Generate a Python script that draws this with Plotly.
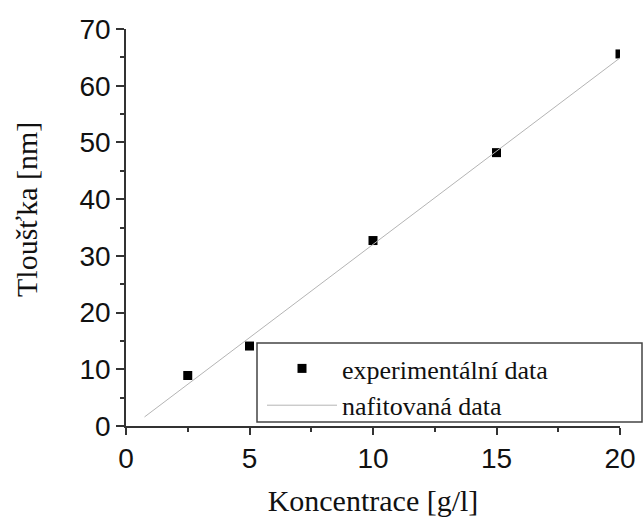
import plotly.graph_objects as go

# Data
conc = [2.5, 5, 10, 15, 20]
thickness = [8.9, 14.1, 32.7, 48.2, 65.6]
fit_x = [0.75, 20.0]
fit_y = [1.6, 64.9]

x_ticks = [0, 5, 10, 15, 20]
y_ticks = [0, 10, 20, 30, 40, 50, 60, 70]

W, H = 644, 519
L, R, T, B = 126, 24, 29, 93
pw, ph = W - L - R, H - T - B

def px_x(p):
    return (p - L) / pw

def px_y(p):
    return (H - B - p) / ph

fig = go.Figure()
fig.add_trace(go.Scatter(
    x=conc, y=thickness, mode="markers", name="experimentální data",
    marker=dict(symbol="square", size=9, color="black"),
))
fig.add_trace(go.Scatter(
    x=fit_x, y=fit_y, mode="lines", name="nafitovaná data",
    line=dict(color="#b4b4b4", width=1),
))

tickfont = dict(family="Liberation Sans, Arial", size=28, color="#111")
titlefont = dict(family="Liberation Serif, Times New Roman", size=30, color="#111")
legfont = dict(family="Liberation Serif, Times New Roman", size=26, color="#111")

fig.update_layout(
    width=W, height=H,
    margin=dict(l=L, r=R, t=T, b=B, autoexpand=False),
    paper_bgcolor="white", plot_bgcolor="white",
    showlegend=True,
    legend=dict(
        x=px_x(262), y=px_y(345), xanchor="left", yanchor="top",
        bgcolor="rgba(0,0,0,0)", borderwidth=0,
        itemwidth=70,
        font=legfont,
        tracegroupgap=0,
    ),
    xaxis=dict(
        range=[0, 20], tickvals=x_ticks, ticktext=[str(v) for v in x_ticks],
        showgrid=False, zeroline=False, automargin=False,
        showline=True, linecolor="#333", linewidth=1.5,
        ticks="outside", ticklen=7, tickwidth=1.5, tickcolor="#333",
        minor=dict(dtick=2.5, ticks="outside", ticklen=4, tickwidth=1.5, tickcolor="#333"),
        tickfont=tickfont,
        title=dict(text="Koncentrace [g/l]", font=titlefont, standoff=17),
    ),
    yaxis=dict(
        range=[0, 70], tickvals=y_ticks, ticktext=[str(v) for v in y_ticks],
        showgrid=False, zeroline=False, automargin=False,
        showline=True, linecolor="#333", linewidth=1.5,
        ticks="outside", ticklen=8, tickwidth=1.5, tickcolor="#333",
        minor=dict(dtick=5, ticks="outside", ticklen=4, tickwidth=1.5, tickcolor="#333"),
        tickfont=tickfont,
    ),
    annotations=[dict(
        text="Tloušťka [nm]", font=titlefont, textangle=-90,
        xref="paper", yref="paper", x=px_x(27), y=px_y(210),
        xanchor="center", yanchor="middle", showarrow=False,
    )],
    shapes=[dict(
        type="rect", xref="paper", yref="paper",
        x0=px_x(257), x1=px_x(642), y0=px_y(422), y1=px_y(343),
        line=dict(color="#444", width=1.5), fillcolor="rgba(255,255,255,0)",
        layer="above",
    )],
)

fig.write_html("out.html")
